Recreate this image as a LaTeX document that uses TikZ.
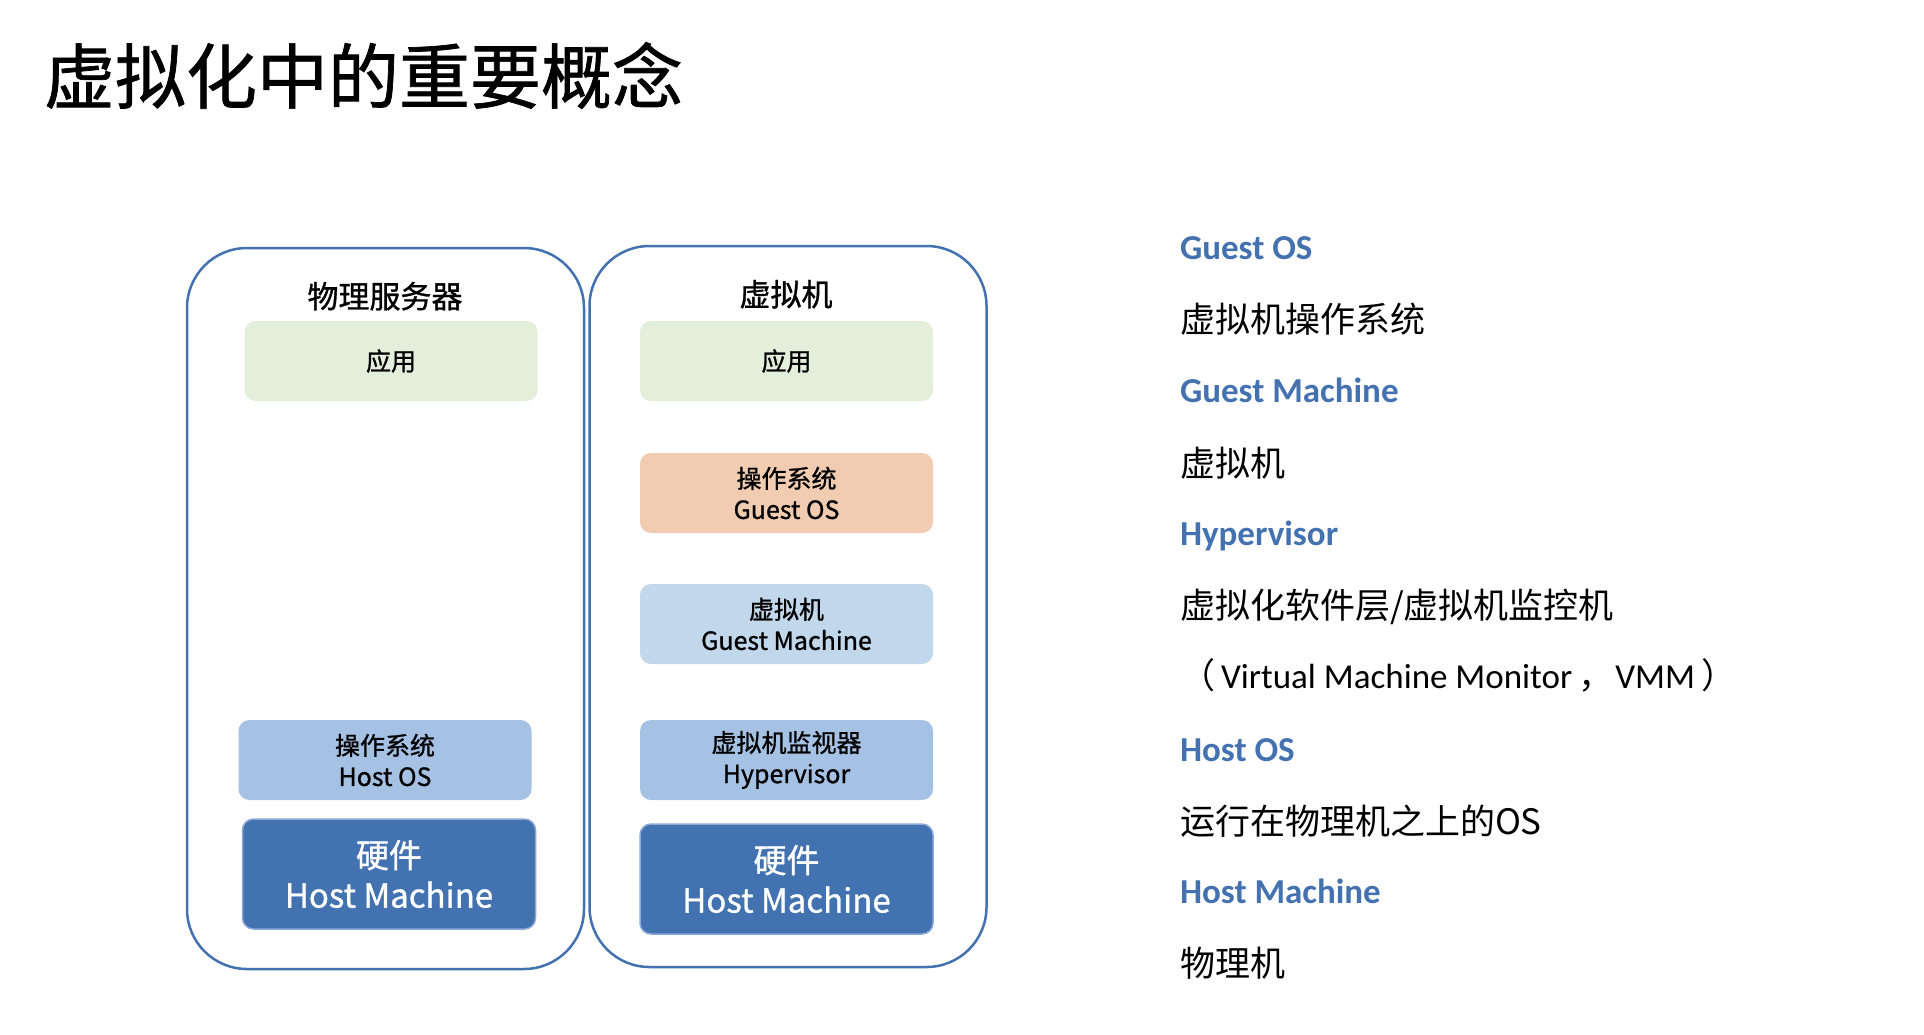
\documentclass[tikz,border=0pt]{standalone}
\usepackage{fontspec}
\setmainfont{Noto Sans CJK SC}
\newfontfamily\cjk{Noto Sans CJK SC}
\newfontfamily\cjkm{Noto Sans CJK SC}[FakeBold=1]
\newfontfamily\lat{Carlito}
\usetikzlibrary{positioning}
\newcommand{\px}[2]{\fontsize{#1}{#2}\selectfont}
\definecolor{frameline}{RGB}{68,114,176}
\definecolor{appfill}{RGB}{227,238,219}
\definecolor{gosfill}{RGB}{241,204,176}
\definecolor{gmfill}{RGB}{193,215,236}
\definecolor{hvfill}{RGB}{165,194,228}
\definecolor{hwfill}{RGB}{66,114,176}
\definecolor{hwline}{RGB}{140,168,214}
\definecolor{termblue}{RGB}{68,114,176}

\begin{document}
\begin{tikzpicture}[
  x=1pt, y=-1pt, inner sep=0pt, outer sep=0pt,
  frame/.style={draw=frameline, line width=2.5pt, rounded corners=60pt, minimum width=397pt, minimum height=721pt},
  head/.style={font=\cjkm\px{31}{37}, anchor=base},
  layer/.style={rounded corners=11pt, minimum width=293pt, minimum height=80pt, align=center, font=\cjkm\px{25}{31}},
  hw/.style={layer, fill=hwfill, draw=hwline, line width=1.5pt, minimum height=110pt, text=white, font=\cjkm\px{33}{40}},
  term/.style={anchor=base west, font=\lat\bfseries\px{35}{42}, text=termblue},
  expl/.style={anchor=base west, font=\cjk\px{35}{42}}]

\useasboundingbox (0,0) rectangle (1924,1034);

% ---- title ----
\node[anchor=base west, font=\cjkm\px{71}{80}] (title) at (44,103) {虚拟化中的重要概念};

% ---- left column: physical server ----
\node[frame] (phys) at (385.5,608.5) {};
\node[head] (physhd) at (385,308) {物理服务器};
\node[layer, fill=appfill] (papp) at (391,361) {应用};
\node[layer, fill=hvfill] (phos) at (385,760) {操作系统\\Host OS};
\node[hw] (phw) at (389,874) {硬件\\Host Machine};

% ---- right column: virtual machine ----
\node[frame] (vm) at (788,606.5) {};
\node[head] (vmhd) at (786,306) {虚拟机};
\node[layer, fill=appfill] (vapp) at (786.5,361) {应用};
\node[layer, fill=gosfill] (vgos) at (786.5,493) {操作系统\\Guest OS};
\node[layer, fill=gmfill] (vgm) at (786.5,624) {虚拟机\\Guest Machine};
\node[layer, fill=hvfill] (vhv) at (786.5,760) {虚拟机监视器\\Hypervisor};
\node[hw] (vhw) at (786.5,879) {硬件\\Host Machine};

% ---- glossary ----
\node[term] (tgos) at (1180,259) {Guest OS};
\node[expl] (egos) at (1180,332) {虚拟机操作系统};
\node[term] (tgm) at (1180,402) {Guest Machine};
\node[expl] (egm) at (1180,476) {虚拟机};
\node[term] (thv) at (1180,545) {Hypervisor};
\node[expl] (ehv) at (1180,618) {虚拟化软件层/虚拟机监控机};
\node[expl] (ehv2) at (1180,688) {（\hspace{6pt}{\lat\px{35}{40}Virtual Machine Monitor}\hspace{6pt}，\hspace{2pt}{\lat\px{35}{40}VMM}\hspace{6pt}）};
\node[term] (thos) at (1180,761) {Host OS};
\node[expl] (ehos) at (1180,834) {运行在物理机之上的OS};
\node[term] (thm) at (1180,903) {Host Machine};
\node[expl] (ehm) at (1180,976) {物理机};
\end{tikzpicture}
\end{document}
